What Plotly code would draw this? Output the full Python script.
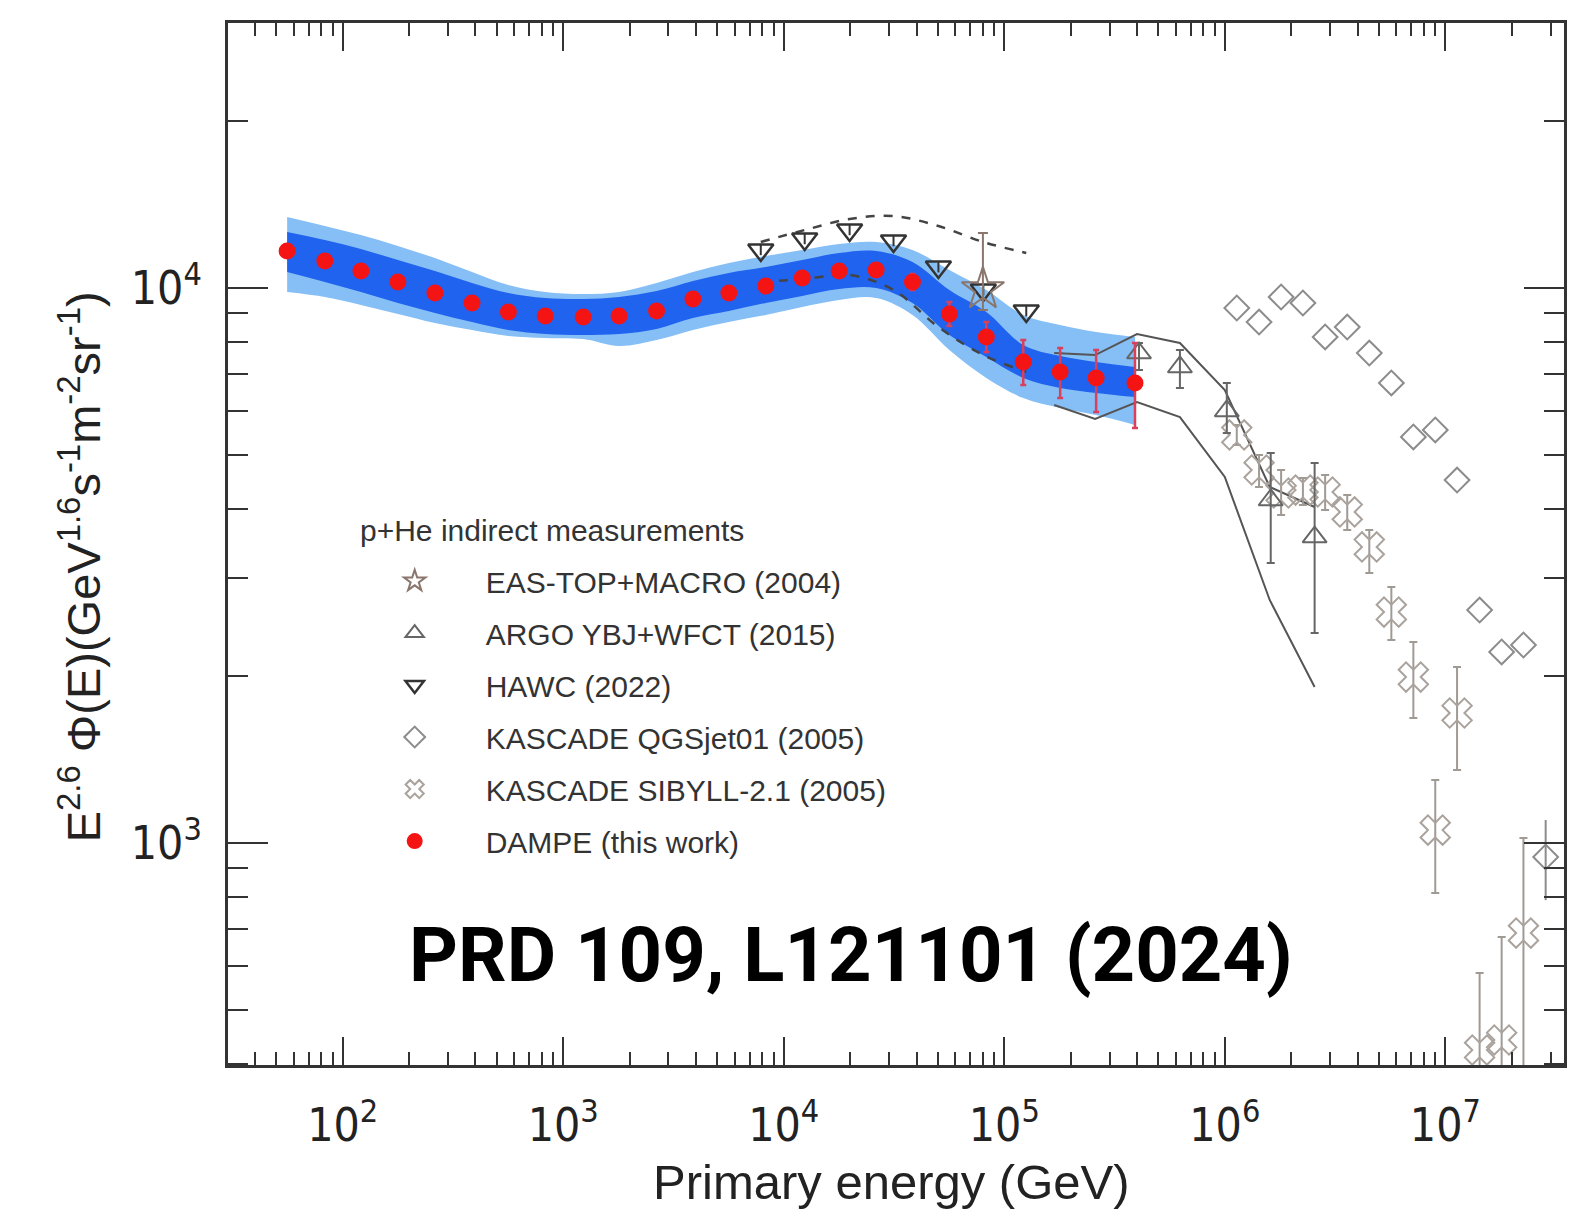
import plotly.graph_objects as go

# ---------------- data ----------------
dampe_E = [56, 83, 121, 178, 262, 386, 564, 829, 1232, 1792, 2650, 3876, 5637, 8290,
           12125, 17830, 26240, 38340, 56370, 82900, 121900, 179200, 260900, 391500]
dampe_F = [11660, 11190, 10730, 10250, 9795, 9396, 9052, 8903, 8867, 8903, 9090, 9554,
           9795, 10080, 10420, 10730, 10775, 10250, 8977, 8161, 7357, 7058, 6885, 6744]
dampe_hi = [11850, 11370, 10900, 10420, 9960, 9550, 9200, 9050, 9010, 9050, 9240, 9710,
            9960, 10250, 10600, 10910, 10960, 10598, 9436, 8683, 8059, 7796, 7732, 7960]
dampe_lo = [11470, 11010, 10560, 10080, 9630, 9240, 8900, 8750, 8720, 8750, 8940, 9400,
            9630, 9910, 10240, 10550, 10590, 9917, 8541, 7668, 6688, 6334, 5977, 5596]

dark_hi = [12614, 12202, 11757, 11231, 10731, 10210, 9795, 9594, 9554, 9634, 9876, 10294,
           10643, 10910, 11231, 11562, 11658, 11139, 9917, 9052, 7895, 7540, 7357, 7206]
dark_lo = [10686, 10252, 9835, 9397, 9015, 8684, 8401, 8262, 8228, 8262, 8436, 8829,
           9090, 9397, 9674, 9959, 10000, 9397, 8228, 7510, 6885, 6605, 6470, 6361]
light_hi = [13425, 12934, 12459, 11903, 11325, 10686, 10125, 9835, 9754, 9835, 10210, 10686,
            11092, 11421, 11708, 12003, 12103, 11708, 10775, 9917, 8941, 8577, 8331, 8163]
light_lo = [9835, 9634, 9319, 8977, 8648, 8401, 8195, 8126, 8092, 7862, 8059, 8401,
            8684, 8941, 9242, 9515, 9594, 8941, 7732, 6885, 6334, 6078, 5903, 5667]

hawc_E = [7868, 12445, 19890, 31460, 50270, 80350, 125800]
hawc_F = [11708, 12252, 12720, 12152, 10910, 9917, 9090]
hawc_err = [250, 260, 270, 260, 240, 220, 200]
hawc_sys_hi = [12103, 12720, 13316, 13482, 12934, 12103, 11562]
hawc_sys_lo = [10252, 10380, 10554, 9917, 8505, 7572, 7058]

eastop_E = [80000]
eastop_F = [9950]
eastop_hi = [12563]
eastop_lo = [9127]

argo_E = [408200, 625800, 1021000, 1615000, 2554000]
argo_F = [7636, 7206, 6003, 4150, 3558]
argo_hi = [7960, 7732, 6744, 5043, 4838]
argo_lo = [7117, 6605, 5481, 3195, 2389]
argo_band_E = [168400, 258200, 399700, 625800, 1000000, 1598000, 2554000]
argo_band_hi = [7636, 7572, 8262, 7960, 6550, 4380, 4031]
argo_band_lo = [6154, 5807, 6231, 5855, 4565, 2741, 1910]

qgs_E = [1.133e6, 1.43e6, 1.80e6, 2.26e6, 2.85e6, 3.59e6, 4.52e6, 5.69e6, 7.16e6,
         9.0e6, 1.13e7, 1.43e7, 1.80e7, 2.26e7, 2.85e7]
qgs_F = [9204, 8684, 9634, 9397, 8163, 8505, 7636, 6744, 5391, 5550, 4508, 2629, 2209,
         2274, 943.6]
qgs_hi = [9204, 8684, 9634, 9397, 8163, 8505, 7636, 6744, 5391, 5550, 4508, 2629, 2209,
          2274, 1100]
qgs_lo = [9204, 8684, 9634, 9397, 8163, 8505, 7636, 6744, 5391, 5550, 4508, 2629, 2209,
          2274, 789]

sib_E = [1.133e6, 1.43e6, 1.80e6, 2.26e6, 2.85e6, 3.59e6, 4.52e6, 5.69e6, 7.16e6,
         9.0e6, 1.13e7, 1.43e7, 1.80e7, 2.26e7]
sib_F = [5435, 4700, 4272, 4325, 4290, 3949, 3415, 2607, 1991, 1055, 1715, 423.6, 441.6,
         688.3]
sib_hi = [5667, 5002, 4700, 4546, 4603, 4237, 3664, 2892, 2302, 1299, 2075, 583.1, 677.0,
          1021]
sib_lo = [5213, 4380, 3899, 4064, 3981, 3664, 3066, 2321, 1680, 812.7, 1354, 250, 250, 250]

x_major = [1e2, 1e3, 1e4, 1e5, 1e6, 1e7]
x_major_text = ["10<sup>2</sup>", "10<sup>3</sup>", "10<sup>4</sup>", "10<sup>5</sup>",
                "10<sup>6</sup>", "10<sup>7</sup>"]
y_major = [1e3, 1e4]
y_major_text = ["10<sup>3</sup>", "10<sup>4</sup>"]

# ---------------- helpers ----------------
def plus(hi, v):
    return [h - c for h, c in zip(hi, v)]


def minus(lo, v):
    return [c - l for l, c in zip(lo, v)]


FONT = "Liberation Sans, Arial, sans-serif"
NARROW = "Liberation Sans Narrow, DejaVu Sans Condensed, Liberation Sans, sans-serif"

fig = go.Figure()

# DAMPE bands
fig.add_trace(go.Scatter(x=dampe_E, y=light_lo, mode="lines", line=dict(width=0, shape="spline"),
                         showlegend=False, hoverinfo="skip"))
fig.add_trace(go.Scatter(x=dampe_E, y=light_hi, mode="lines", line=dict(width=0, shape="spline"),
                         fill="tonexty", fillcolor="#86bff6", showlegend=False, hoverinfo="skip"))
fig.add_trace(go.Scatter(x=dampe_E, y=dark_lo, mode="lines", line=dict(width=0, shape="spline"),
                         showlegend=False, hoverinfo="skip"))
fig.add_trace(go.Scatter(x=dampe_E, y=dark_hi, mode="lines", line=dict(width=0, shape="spline"),
                         fill="tonexty", fillcolor="#2063ee", showlegend=False, hoverinfo="skip"))

# HAWC systematics (dashed)
for yy in (hawc_sys_hi, hawc_sys_lo):
    fig.add_trace(go.Scatter(x=hawc_E, y=yy, mode="lines",
                             line=dict(color="#444444", width=2.5, dash="dash", shape="spline"),
                             showlegend=False, hoverinfo="skip"))

# ARGO systematics (solid)
for yy in (argo_band_hi, argo_band_lo):
    fig.add_trace(go.Scatter(x=argo_band_E, y=yy, mode="lines",
                             line=dict(color="#555555", width=2),
                             showlegend=False, hoverinfo="skip"))

# KASCADE QGSjet01
fig.add_trace(go.Scatter(
    x=qgs_E, y=qgs_F, mode="markers", name="KASCADE QGSjet01 (2005)", legendgroup="d", legendrank=4,
    marker=dict(symbol="diamond-open", size=19, color="#8c8c8c", line=dict(width=2, color="#8c8c8c")),
    error_y=dict(type="data", symmetric=False, array=plus(qgs_hi, qgs_F), arrayminus=minus(qgs_lo, qgs_F),
                 color="#8c8c8c", thickness=2, width=0)))

# KASCADE SIBYLL-2.1
fig.add_trace(go.Scatter(
    x=sib_E, y=sib_F, mode="markers", name="KASCADE SIBYLL-2.1 (2005)", legendgroup="e", legendrank=5,
    marker=dict(symbol="x-open", size=26, color="#aaa29c", line=dict(width=2, color="#aaa29c")),
    error_y=dict(type="data", symmetric=False, array=plus(sib_hi, sib_F), arrayminus=minus(sib_lo, sib_F),
                 color="#a09a95", thickness=2, width=4)))

# ARGO
fig.add_trace(go.Scatter(
    x=argo_E, y=argo_F, mode="markers", name="ARGO YBJ+WFCT (2015)", legendgroup="b", legendrank=2,
    marker=dict(symbol="triangle-up-open", size=21, color="#666666", line=dict(width=2, color="#666666")),
    error_y=dict(type="data", symmetric=False, array=plus(argo_hi, argo_F), arrayminus=minus(argo_lo, argo_F),
                 color="#666666", thickness=2, width=4)))

# HAWC
fig.add_trace(go.Scatter(
    x=hawc_E, y=hawc_F, mode="markers", name="HAWC (2022)", legendgroup="c", legendrank=3,
    marker=dict(symbol="triangle-down-open", size=22, color="#333333", line=dict(width=2.5, color="#333333")),
    error_y=dict(type="data", array=hawc_err, color="#333333", thickness=2, width=0)))

# EAS-TOP + MACRO
fig.add_trace(go.Scatter(
    x=eastop_E, y=eastop_F, mode="markers", name="EAS-TOP+MACRO (2004)", legendgroup="a", legendrank=1,
    marker=dict(symbol="star-open", size=32, color="#8a766c", line=dict(width=2, color="#8a766c")),
    error_y=dict(type="data", symmetric=False, array=plus(eastop_hi, eastop_F),
                 arrayminus=minus(eastop_lo, eastop_F), color="#8a766c", thickness=2, width=5)))

# DAMPE
fig.add_trace(go.Scatter(
    x=dampe_E, y=dampe_F, mode="markers", name="DAMPE (this work)", legendgroup="f", legendrank=6,
    marker=dict(symbol="circle", size=17, color="#f51414"),
    error_y=dict(type="data", symmetric=False, array=plus(dampe_hi, dampe_F),
                 arrayminus=minus(dampe_lo, dampe_F), color="#d8405c", thickness=2.5, width=3)))

x_minor = [m * 10 ** k for k in range(1, 8) for m in range(2, 10) if 30 <= m * 10 ** k <= 3.4e7]
y_minor = [m * 10 ** k for k in range(2, 5) for m in range(2, 10) if 398 <= m * 10 ** k <= 30000]

axis_common = dict(type="log", showline=True, linewidth=3, linecolor="#333333", mirror="allticks",
                   ticks="inside", tickwidth=2, tickcolor="#333333", showgrid=False, zeroline=False,
                   tickfont=dict(family=NARROW, size=46, color="#222222"))

fig.update_layout(
    width=1570, height=1209,
    margin=dict(l=228, r=3, t=23, b=144),
    paper_bgcolor="white", plot_bgcolor="white",
    xaxis=dict(range=[1.48, 7.538], tickvals=x_major, ticktext=x_major_text, ticklen=28,
               ticklabelstandoff=18,
               minor=dict(tickvals=x_minor, ticklen=13, tickwidth=2, tickcolor="#333333", ticks="inside",
                          showgrid=False),
               **axis_common),
    yaxis=dict(range=[2.6, 4.4775], tickvals=y_major, ticktext=y_major_text, ticklen=40,
               ticklabelstandoff=14,
               minor=dict(tickvals=y_minor, ticklen=20, tickwidth=2, tickcolor="#333333", ticks="inside",
                          showgrid=False),
               **axis_common),
    showlegend=True,
    legend=dict(x=0.0866, y=0.4894, xanchor="left", yanchor="top", bgcolor="rgba(0,0,0,0)",
                itemwidth=132, traceorder="grouped", tracegroupgap=10,
                font=dict(family=FONT, size=30, color="#333333")),
    annotations=[
        dict(text="p+He indirect measurements", xref="paper", yref="paper", x=(358 - 228) / 1339,
             y=(1065 - 530) / 1042, xanchor="left", yanchor="middle", showarrow=False,
             font=dict(family=FONT, size=30, color="#333333")),
        dict(text="Primary energy (GeV)", xref="paper", yref="paper", x=(893 - 228) / 1339,
             y=-(1182 - 1065) / 1042, xanchor="center", yanchor="middle", showarrow=False,
             font=dict(family=FONT, size=49, color="#222222")),
        dict(text="E<sup>2.6</sup> Φ(E)(GeV<sup>1.6</sup>s<sup>-1</sup>m<sup>-2</sup>sr<sup>-1</sup>)",
             xref="paper", yref="paper", x=-(228 - 80) / 1339, y=(1065 - 567) / 1042,
             xanchor="center", yanchor="middle", textangle=-90, showarrow=False,
             font=dict(family=FONT, size=47, color="#222222")),
        dict(text="<b>PRD 109, L121101 (2024)</b>", xref="paper", yref="paper", x=(852 - 228) / 1339,
             y=(1065 - 955) / 1042, xanchor="center", yanchor="middle", showarrow=False,
             font=dict(family="Roboto, Liberation Sans, sans-serif", size=76, color="black")),
    ],
)

fig.write_html("out.html")
